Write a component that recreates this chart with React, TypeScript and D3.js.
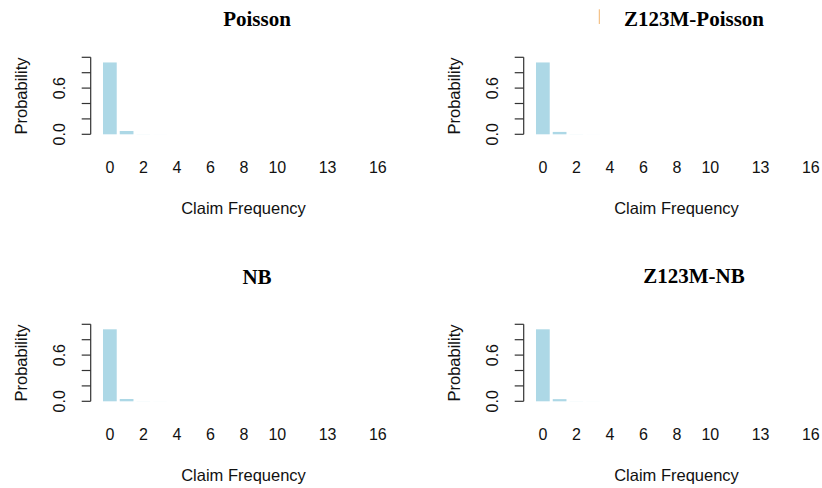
import React from "react";
import * as d3 from "d3";

// Claim frequency categories 0..16
const categories: string[] = ["0","1","2","3","4","5","6","7","8","9","10","11","12","13","14","15","16"];
const shownXLabels: string[] = ["0","2","4","6","8","10","13","16"];
const yTicks: number[] = [0, 0.2, 0.4, 0.6, 0.8, 1.0];
const yLabels: number[] = [0, 0.6];

const titles: string[] = ["Poisson", "Z123M-Poisson", "NB", "Z123M-NB"];

const poisson: number[] = [0.933, 0.043, 0.0012, 0.0004, 0.0002, 0.0001, 0.00005, 0.00002, 0.00001, 0, 0, 0, 0, 0, 0, 0, 0];
const z123mPoisson: number[] = [0.933, 0.031, 0.0012, 0.0004, 0.0002, 0.0001, 0.00005, 0.00002, 0.00001, 0, 0, 0, 0, 0, 0, 0, 0];
const nb: number[] = [0.935, 0.030, 0.0012, 0.0005, 0.0003, 0.0002, 0.0001, 0.00005, 0.00003, 0.00002, 0.00001, 0, 0, 0, 0, 0, 0];
const z123mNb: number[] = [0.935, 0.028, 0.0012, 0.0005, 0.0003, 0.0002, 0.0001, 0.00005, 0.00003, 0.00002, 0.00001, 0, 0, 0, 0, 0, 0];

const seriesList: number[][] = [poisson, z123mPoisson, nb, z123mNb];

const W = 822;
const H = 488;

const panelDx = [0, 433, 0, 433];
const panelDy = [0, 0, 267, 267];
const titleX = [257, 694, 257, 694];
const titleY = [26, 26, 284, 283];

const BAR = "#ADD8E6";
const INK = "#111";
const SANS = "'Liberation Sans', Arial, sans-serif";
const SERIF = "'Liberation Serif', 'Times New Roman', serif";

function Panel({ idx }: { idx: number }) {
  const dx = panelDx[idx];
  const dy = panelDy[idx];
  const values = seriesList[idx];

  const x = d3
    .scaleBand<string>()
    .domain(categories)
    .range([101.48, 101.48 + 17 * 16.75])
    .paddingInner(0.18)
    .paddingOuter(0.09);
  const y = d3.scaleLinear().domain([0, 1]).range([134.3, 57.3]);
  const axisX = 90.7;

  return (
    <g>
      <text
        x={titleX[idx]}
        y={titleY[idx]}
        textAnchor="middle"
        fontFamily={SERIF}
        fontWeight="bold"
        fontSize={21}
        fill="#000"
      >
        {titles[idx]}
      </text>
      <g transform={`translate(${dx},${dy})`}>
        {categories.map((c, i) => {
          const v = values[i];
          const h = y(0) - y(v);
          return (
            <rect
              key={c}
              x={x(c)}
              y={y(v)}
              width={x.bandwidth()}
              height={Math.max(0, h)}
              fill={BAR}
            />
          );
        })}
        {/* y axis */}
        <line x1={axisX} x2={axisX} y1={y(0)} y2={y(1)} stroke="#333" strokeWidth={1.2} />
        {yTicks.map((t) => (
          <line key={t} x1={axisX - 9} x2={axisX} y1={y(t)} y2={y(t)} stroke="#333" strokeWidth={1.2} />
        ))}
        {yLabels.map((t) => (
          <text
            key={t}
            transform={`translate(65,${y(t)}) rotate(-90)`}
            textAnchor="middle"
            fontFamily={SANS}
            fontSize={16}
            fill={INK}
          >
            {t.toFixed(1)}
          </text>
        ))}
        <text
          transform={`translate(26.5,96) rotate(-90)`}
          textAnchor="middle"
          fontFamily={SANS}
          fontSize={16.5}
          fill={INK}
        >
          Probability
        </text>
        {/* x labels */}
        {shownXLabels.map((c) => (
          <text
            key={c}
            x={(x(c) as number) + x.bandwidth() / 2}
            y={172.5}
            textAnchor="middle"
            fontFamily={SANS}
            fontSize={16}
            fill={INK}
          >
            {c}
          </text>
        ))}
        <text
          x={243.5}
          y={213.5}
          textAnchor="middle"
          fontFamily={SANS}
          fontSize={16.5}
          fill={INK}
        >
          Claim Frequency
        </text>
      </g>
    </g>
  );
}

export default function App() {
  return (
    <svg
      width={W}
      height={H}
      viewBox={`0 0 ${W} ${H}`}
      style={{ position: "absolute", left: 0, top: 0, background: "#fff", display: "block" }}
    >
      <rect x={0} y={0} width={W} height={H} fill="#fff" />
      {titles.map((_, i) => (
        <Panel key={i} idx={i} />
      ))}
      <line x1={599.3} x2={599.3} y1={9.3} y2={24} stroke="#f2b46e" strokeWidth={1} />
    </svg>
  );
}
